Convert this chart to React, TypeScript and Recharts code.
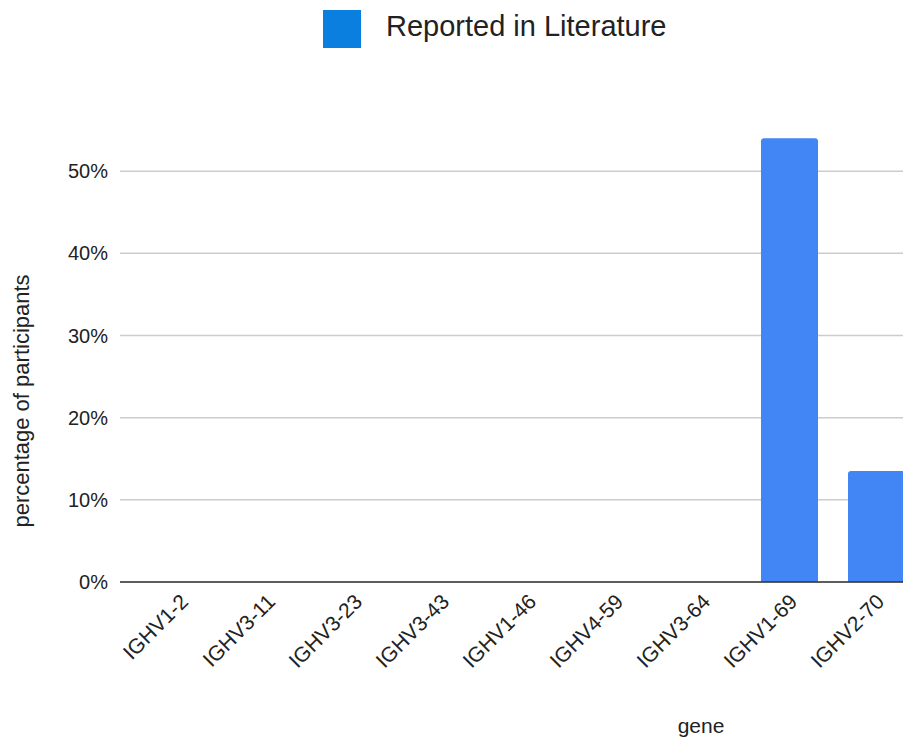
import React from "react";
import { BarChart, Bar, XAxis, YAxis, CartesianGrid } from "recharts";

// Gene segments and share of participants reported in the literature
const genes = [
  "IGHV1-2",
  "IGHV3-11",
  "IGHV3-23",
  "IGHV3-43",
  "IGHV1-46",
  "IGHV4-59",
  "IGHV3-64",
  "IGHV1-69",
  "IGHV2-70",
];
const reportedInLiterature = [0, 0, 0, 0, 0, 0, 0, 0.54, 0.135];
const yTicks = [0, 0.1, 0.2, 0.3, 0.4, 0.5];

const seriesName = "Reported in Literature";
const FONT = "'Liberation Sans', Arial, sans-serif";

const data = genes.map((gene, i) => ({ gene, value: reportedInLiterature[i] }));

const GeneTick = (props: any) => {
  const { x, y, payload } = props;
  return (
    <g transform={`translate(${x + 9},${y + 21})`}>
      <text
        transform="rotate(-45)"
        textAnchor="end"
        fontSize={21}
        fontFamily={FONT}
        fill="#222"
      >
        {payload.value}
      </text>
    </g>
  );
};

const PercentTick = (props: any) => {
  const { x, y, payload } = props;
  return (
    <text
      x={x}
      y={y}
      dy={7}
      textAnchor="end"
      fontSize={20}
      fontFamily={FONT}
      fill="#222"
    >
      {`${Math.round(payload.value * 100)}%`}
    </text>
  );
};

export default function App() {
  return (
    <div
      style={{
        position: "absolute",
        left: 0,
        top: 0,
        width: 903,
        height: 741,
        overflow: "hidden",
        background: "#fff",
        fontFamily: FONT,
      }}
    >
      <div
        style={{
          position: "absolute",
          left: 323,
          top: 10,
          width: 38,
          height: 38,
          background: "#0b7fe0",
        }}
      />
      <div
        style={{
          position: "absolute",
          left: 386,
          top: 8,
          fontSize: 29,
          lineHeight: "36px",
          color: "#222",
          whiteSpace: "nowrap",
        }}
      >
        {seriesName}
      </div>
      <BarChart
        width={930}
        height={741}
        data={data}
        margin={{ top: 89, right: 10, bottom: 0, left: 0 }}
        barSize={57}
      >
        <CartesianGrid
          vertical={false}
          horizontalValues={yTicks}
          stroke="#cccccc"
          strokeWidth={1.5}
        />
        <XAxis
          dataKey="gene"
          height={159}
          interval={0}
          tickLine={false}
          tickSize={0}
          tickMargin={0}
          axisLine={{ stroke: "#333", strokeWidth: 1.5 }}
          padding={{ left: 17, right: 0 }}
          tick={<GeneTick />}
          label={{
            value: "gene",
            content: () => (
              <text
                x={701}
                y={733}
                textAnchor="middle"
                fontSize={21}
                fontFamily={FONT}
                fill="#222"
              >
                gene
              </text>
            ),
          }}
        />
        <YAxis
          width={120}
          domain={[0, 0.6]}
          ticks={yTicks}
          tickLine={false}
          axisLine={false}
          tickSize={0}
          tickMargin={12}
          tick={<PercentTick />}
          label={{
            value: "percentage of participants",
            content: () => (
              <text
                x={29}
                y={401}
                transform="rotate(-90, 29, 401)"
                textAnchor="middle"
                fontSize={22}
                fontFamily={FONT}
                fill="#222"
              >
                percentage of participants
              </text>
            ),
          }}
        />
        <Bar
          dataKey="value"
          name={seriesName}
          fill="#4285f4"
          radius={[3, 3, 0, 0]}
          isAnimationActive={false}
        />
      </BarChart>
    </div>
  );
}
